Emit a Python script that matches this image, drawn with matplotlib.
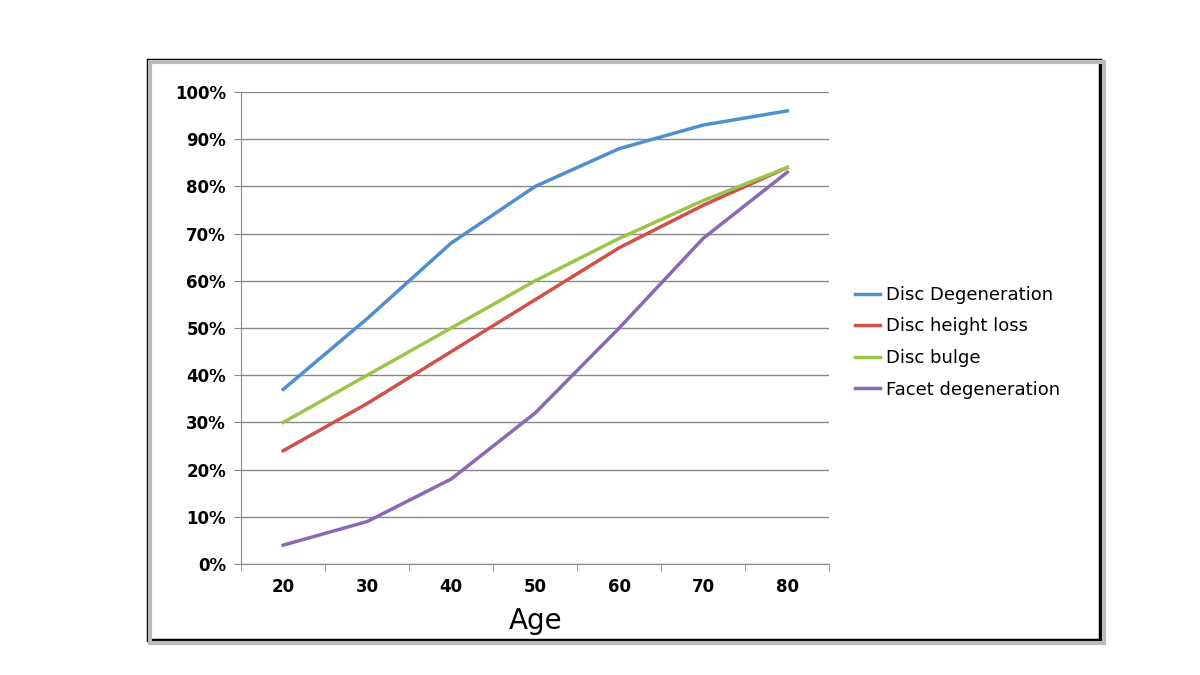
import matplotlib.pyplot as plt
from matplotlib.patches import Rectangle
import numpy as np

ages = ['20', '30', '40', '50', '60', '70', '80']
disc_degeneration = [37, 52, 68, 80, 88, 93, 96]
disc_height_loss = [24, 34, 45, 56, 67, 76, 84]
disc_bulge = [30, 40, 50, 60, 69, 77, 84]
facet_degeneration = [4, 9, 18, 32, 50, 69, 83]

series = [
    ('Disc Degeneration', disc_degeneration, '#4f8fd0'),
    ('Disc height loss', disc_height_loss, '#d0504a'),
    ('Disc bulge', disc_bulge, '#9bc548'),
    ('Facet degeneration', facet_degeneration, '#8b68b5'),
]

fig = plt.figure(figsize=(12, 6.75), dpi=100)
fig.patch.set_facecolor('white')

# outer frame with a faint shadow
fig.add_artist(Rectangle((0.125, 0.048), 0.795, 0.86, transform=fig.transFigure,
                         facecolor='none', edgecolor='#bbbbbb', linewidth=3))
fig.add_artist(Rectangle((0.123, 0.052), 0.794, 0.859, transform=fig.transFigure,
                         facecolor='white', edgecolor='black', linewidth=2.5, zorder=0))

ax = fig.add_axes([0.201, 0.1644, 0.49, 0.6993])
x = np.arange(len(ages))
for label, vals, color in series:
    ax.plot(x, vals, color=color, linewidth=2.5, label=label)

ax.set_xlim(-0.5, len(ages) - 0.5)
ax.set_ylim(0, 100)
ax.set_yticks(range(0, 101, 10))
ax.set_yticklabels([f'{v}%' for v in range(0, 101, 10)], fontsize=12, fontweight='bold')
ax.set_xticks(x)
ax.set_xticklabels(ages, fontsize=12, fontweight='bold')
ax.set_xticks(np.arange(-0.5, len(ages), 1), minor=True)
ax.tick_params(axis='x', which='major', length=0, pad=10)
ax.tick_params(axis='x', which='minor', length=5, color='#888888')
ax.tick_params(axis='y', length=5, color='#888888', pad=6)
ax.grid(axis='y', color='#888888', linewidth=1)
ax.set_axisbelow(True)
for s in ['top', 'right']:
    ax.spines[s].set_visible(False)
for s in ['left', 'bottom']:
    ax.spines[s].set_color('#888888')
ax.set_xlabel('Age', fontsize=20, labelpad=8)

ax.legend(loc='center left', bbox_to_anchor=(0.699, 0.493), bbox_transform=fig.transFigure,
          frameon=False, fontsize=13, handlelength=1.4, handletextpad=0.3, labelspacing=0.75)

fig.savefig('out.png', dpi=100)
